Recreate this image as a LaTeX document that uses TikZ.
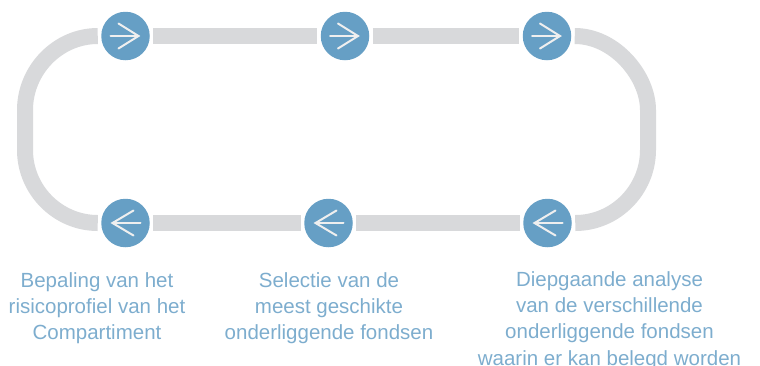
\documentclass[tikz,border=0pt]{standalone}
\usepackage{fontspec}
\usetikzlibrary{calc}
\setmainfont{Liberation Sans}
\definecolor{trackgrey}{HTML}{D8D9DB}
\definecolor{stepblue}{HTML}{669FC5}
\definecolor{labelblue}{HTML}{7DADCE}
\definecolor{arrowwhite}{HTML}{EFEFEF}
\tikzset{
  stepdot/.style={circle,fill=stepblue,minimum size=48.5pt,inner sep=0pt,outer sep=3.5pt},
  track/.style={draw=trackgrey,line width=16pt},
  glyph/.style={draw=arrowwhite,line width=2pt,line cap=round,line join=miter},
  caption/.style={text=labelblue,align=center,inner sep=0pt,anchor=north,
    font=\fontsize{20.5}{26.2}\selectfont}
}
\newcommand{\rightglyph}[1]{%
  \draw[glyph] ([shift={(-15,0)}]#1.center) -- ([shift={(13,0)}]#1.center);
  \draw[glyph] ([shift={(-7,12.5)}]#1.center) -- ([shift={(13,0)}]#1.center) -- ([shift={(-7,-12.5)}]#1.center);}
\newcommand{\leftglyph}[1]{%
  \draw[glyph] ([shift={(15,0)}]#1.center) -- ([shift={(-13,0)}]#1.center);
  \draw[glyph] ([shift={(8,12.5)}]#1.center) -- ([shift={(-13,0)}]#1.center) -- ([shift={(8,-12.5)}]#1.center);}
\begin{document}
\begin{tikzpicture}[x=1pt,y=-1pt]
\useasboundingbox (0,0) rectangle (760,365);
\node[stepdot] (t1) at (125.5,36) {};
\node[stepdot] (t2) at (345,36) {};
\node[stepdot] (t3) at (547,36) {};
\node[stepdot] (b1) at (125.5,223) {};
\node[stepdot] (b2) at (328.5,223) {};
\node[stepdot] (b3) at (547.5,223) {};
\draw[track] (t1) -- (t2);
\draw[track] (t2) -- (t3);
\draw[track] (b1) -- (b2);
\draw[track] (b2) -- (b3);
\draw[track] (t3.east) .. controls +(40,0) and (648,76) .. (648,110) -- (648,150)
  .. controls (648,190) and ($(b3.east)+(40,0)$) .. (b3.east);
\draw[track] (t1.west) .. controls +(-40,0) and (25,70) .. (25,110) -- (25,150)
  .. controls (25,190) and ($(b1.west)+(-40,0)$) .. (b1.west);
\rightglyph{t1}\rightglyph{t2}\rightglyph{t3}
\leftglyph{b1}\leftglyph{b2}\leftglyph{b3}
\node[caption] (c1) at (97,272) {Bepaling van het\\risicoprofiel van het\\Compartiment};
\node[caption] (c2) at (329,272) {Selectie van de\\meest geschikte\\onderliggende fondsen};
\node[caption] (c3) at (609.5,271.5) {Diepgaande analyse\\van de verschillende\\onderliggende fondsen\\waarin er kan belegd worden};
\end{tikzpicture}
\end{document}
